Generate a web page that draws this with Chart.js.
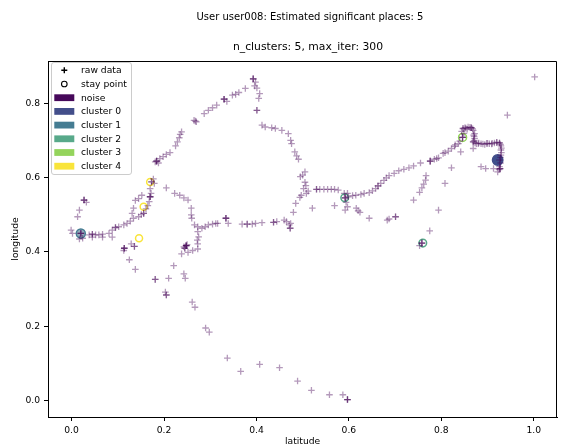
<!DOCTYPE html>
<html><head><meta charset="utf-8">
<script src="https://cdn.jsdelivr.net/npm/chart.js@4.4.0/dist/chart.umd.min.js"></script>
<style>html,body{margin:0;padding:0;background:#fff}</style>
</head><body>
<canvas id="c" width="564" height="448"></canvas>
<script>
// ---------- text ----------
const suptitleText = 'User user008: Estimated significant places: 5';
const subtitleText = 'n_clusters: 5, max_iter: 300';
const xLabel = 'latitude';
const yLabel = 'longitude';
const xTicks = [0.0, 0.2, 0.4, 0.6, 0.8, 1.0];
const yTicks = [0.0, 0.2, 0.4, 0.6, 0.8];
const legendMarkers = ['raw data', 'stay point'];
const clusterNames = ['noise', 'cluster 0', 'cluster 1', 'cluster 2', 'cluster 3', 'cluster 4'];

// ---------- raw data (latitude, longitude) ----------
const rawLat = [
 -0.001,0.002,0.020,0.020,0.020,0.017,0.024,0.013,0.017,0.027,0.027,0.027,0.032,
 0.038,0.045,0.045,0.052,0.059,0.045,0.067,0.067,0.081,0.088,0.088,0.095,0.095,0.102,0.113,0.120,0.127,0.134,0.145,0.156,0.156,0.151,0.161,0.134,0.131,
 0.114,0.114,0.114,0.113,0.129,0.136,0.136,0.125,0.138,
 0.152,0.145,0.138,0.165,0.168,0.170,0.170,0.170,0.172,0.170,0.173,0.173,0.177,0.179,
 0.181,0.184,0.184,0.184,0.188,0.191,0.198,0.205,0.213,0.225,0.229,0.233,0.235,0.238,0.265,0.268,0.270,0.287,0.296,0.305,0.314,
 0.330,0.330,0.330,0.336,0.348,0.355,0.362,0.376,0.393,0.393,0.393,0.398,0.396,0.401,0.407,0.405,0.401,0.401,
 0.412,0.419,0.433,0.441,0.455,0.469,0.474,0.476,0.483,0.487,0.491,0.505,0.500,0.495,0.505,0.507,0.502,0.512,0.508,0.497,0.494,0.485,0.480,0.474,0.473,0.473,0.521,
 0.530,0.530,0.537,0.546,0.554,0.562,0.569,0.577,
 0.592,0.592,0.592,0.590,0.597,0.599,0.594,0.597,0.592,0.608,0.615,0.626,0.633,0.644,0.651,0.658,0.663,0.663,0.669,0.676,0.681,0.687,0.698,0.708,0.719,0.730,0.740,0.755,0.776,0.776,0.776,0.785,0.794,0.804,0.808,0.822,0.829,0.837,0.840,0.846,0.846,0.846,
 0.847,0.847,0.851,0.858,0.865,0.865,0.869,0.872,0.872,0.869,0.869,0.876,0.886,0.894,0.904,0.915,0.926,0.926,0.929,0.929,0.929,0.926,0.927,0.927,0.927,0.922,0.844,0.856,0.871,0.881,0.898,0.909,0.920,0.930,0.928,
 0.849,0.853,0.862,0.868,0.870,0.871,0.873,0.880,0.890,0.900,0.910,0.920,0.928,0.930,0.928,0.926,0.925,0.815,0.830,0.790,
 0.842,0.869,0.822,0.886,0.896,0.913,0.943,1.002,
 0.767,0.766,0.762,0.758,0.753,0.740,0.808,0.794,0.775,0.758,0.758,0.758,0.753,
 0.701,0.701,0.687,0.683,0.644,0.616,0.620,0.624,0.569,
 0.205,0.223,0.234,0.243,0.252,0.259,0.259,0.260,0.266,0.273,0.282,0.289,0.296,0.305,0.312,0.316,0.334,0.334,0.334,0.339,0.369,0.380,0.380,0.391,0.398,0.412,0.437,0.437,0.444,0.460,0.465,0.471,
 0.273,0.275,0.272,0.273,0.273,0.262,0.252,0.238,0.245,0.245,0.248,0.248,0.248,0.248,0.250,0.243,
 0.221,0.210,0.181,0.181,0.205,0.205,0.203,0.243,0.246,0.261,0.267,0.290,0.298,
 0.337,0.366,0.407,0.450,0.489,0.519,0.558,0.587,0.597,0.597,0.597
];
const rawLon = [
 0.459,0.450,0.450,0.450,0.450,0.435,0.437,0.495,0.513,0.540,0.540,0.540,0.534,
 0.446,0.448,0.448,0.446,0.446,0.440,0.448,0.440,0.450,0.440,0.459,0.466,0.466,0.468,0.473,0.477,0.483,0.491,0.495,0.504,0.504,0.501,0.516,0.518,0.504,
 0.410,0.410,0.410,0.404,0.422,0.415,0.415,0.379,0.353,
 0.553,0.544,0.539,0.525,0.536,0.549,0.549,0.549,0.558,0.571,0.589,0.589,0.597,0.585,
 0.643,0.645,0.645,0.645,0.640,0.652,0.657,0.663,0.668,0.686,0.697,0.708,0.717,0.724,0.755,0.753,0.751,0.773,0.782,0.789,0.796,
 0.812,0.812,0.812,0.806,0.823,0.825,0.830,0.841,0.867,0.867,0.867,0.858,0.848,0.842,0.827,0.814,0.782,0.782,
 0.742,0.737,0.735,0.733,0.728,0.719,0.701,0.692,0.670,0.659,0.650,0.616,0.607,0.603,0.588,0.579,0.571,0.564,0.558,0.553,0.547,0.531,0.507,0.477,0.464,0.464,0.518,
 0.569,0.569,0.569,0.569,0.569,0.569,0.569,0.567,
 0.546,0.546,0.546,0.558,0.558,0.549,0.534,0.522,0.513,0.552,0.553,0.555,0.558,0.560,0.565,0.571,0.578,0.578,0.585,0.593,0.600,0.606,0.612,0.619,0.623,0.627,0.632,0.640,0.645,0.645,0.645,0.650,0.654,0.666,0.668,0.679,0.685,0.692,0.699,0.709,0.709,0.709,
 0.733,0.733,0.735,0.737,0.735,0.735,0.728,0.719,0.706,0.697,0.697,0.692,0.692,0.690,0.692,0.694,0.694,0.694,0.686,0.675,0.661,0.648,0.625,0.625,0.625,0.616,0.725,0.731,0.712,0.694,0.693,0.691,0.696,0.680,0.655,
 0.720,0.734,0.736,0.732,0.715,0.700,0.694,0.692,0.691,0.693,0.693,0.695,0.690,0.668,0.640,0.630,0.622,0.672,0.689,0.652,
 0.670,0.679,0.627,0.630,0.625,0.625,0.769,0.872,
 0.606,0.594,0.583,0.573,0.561,0.540,0.585,0.513,0.457,0.424,0.424,0.424,0.417,
 0.495,0.495,0.489,0.486,0.491,0.518,0.511,0.507,0.525,
 0.573,0.558,0.553,0.546,0.540,0.518,0.500,0.491,0.473,0.468,0.464,0.468,0.473,0.475,0.477,0.477,0.491,0.491,0.491,0.477,0.475,0.475,0.475,0.475,0.477,0.479,0.480,0.480,0.482,0.486,0.482,0.473,
 0.455,0.441,0.432,0.422,0.408,0.404,0.399,0.395,0.410,0.410,0.417,0.417,0.417,0.417,0.420,0.414,
 0.363,0.329,0.326,0.326,0.284,0.284,0.292,0.341,0.329,0.265,0.251,0.195,0.184,
 0.114,0.078,0.097,0.088,0.052,0.027,0.015,0.015,0.002,0.002,0.002
];

// ---------- stay points ----------
const stayLat = [0.922, 0.020, 0.591, 0.760, 0.846, 0.170, 0.156, 0.146];
const stayLon = [0.648, 0.450, 0.546, 0.424, 0.709, 0.589, 0.522, 0.437];
const stayCluster = [0, 1, 2, 2, 3, 4, 4, 4];

// ---------- styles ----------
const FONT = 'DejaVu Sans';
const clusterColors = ['#46085a', '#434e8a', '#457c92', '#58a98a', '#94d45c', '#f9e43a']; // noise, c0..c4
const stayRadius = {0: 5.2, 1: 4.5, 2: 3.8, 3: 4, 4: 3.5};
const stayFill = {0: '#3f4f8c', 1: 'rgba(60,100,130,0.55)', 2: 'rgba(0,0,0,0)', 3: 'rgba(0,0,0,0)', 4: 'rgba(0,0,0,0)'};

const rawPoints = rawLat.slice(0, Math.min(rawLat.length, rawLon.length)).map((x, i) => ({x: x, y: rawLon[i]}));
const stayPoints = stayLat.map((x, i) => ({x: x, y: stayLon[i]}));

const titlePlugin = {
  id: 'mplTitles',
  afterDraw(chart) {
    const ctx = chart.ctx;
    ctx.save();
    ctx.fillStyle = '#000';
    ctx.textAlign = 'center';
    ctx.textBaseline = 'middle';
    ctx.font = '10px "' + FONT + '"';
    ctx.fillText(suptitleText, 310, 17);
    ctx.font = '10.8px "' + FONT + '"';
    ctx.fillText(subtitleText, 308, 47);
    ctx.restore();
  }
};

const framePlugin = {
  id: 'frame',
  afterDatasetsDraw(chart) {
    const {ctx, chartArea: a} = chart;
    ctx.save();
    ctx.strokeStyle = '#000';
    ctx.lineWidth = 1;
    ctx.beginPath();
    ctx.moveTo(Math.round(a.left) + 0.5, Math.round(a.top) + 0.5);
    ctx.lineTo(Math.round(a.right) - 0.5, Math.round(a.top) + 0.5);
    ctx.lineTo(Math.round(a.right) - 0.5, Math.round(a.bottom) + 0.5);
    ctx.stroke();
    ctx.restore();
  }
};

const legendPlugin = {
  id: 'mplLegend',
  afterDraw(chart) {
    const ctx = chart.ctx;
    const bx = 51.5, by = 62.5, bw = 80, bh = 112, r = 2.5;
    ctx.save();
    ctx.beginPath();
    ctx.moveTo(bx + r, by);
    ctx.arcTo(bx + bw, by, bx + bw, by + bh, r);
    ctx.arcTo(bx + bw, by + bh, bx, by + bh, r);
    ctx.arcTo(bx, by + bh, bx, by, r);
    ctx.arcTo(bx, by, bx + bw, by, r);
    ctx.closePath();
    ctx.fillStyle = 'rgba(255,255,255,0.8)';
    ctx.fill();
    ctx.strokeStyle = '#cccccc';
    ctx.lineWidth = 1;
    ctx.stroke();

    const labels = legendMarkers.concat(clusterNames);
    const y0 = 70.3, dy = 13.7, mx = 64.3, tx = 81;
    ctx.font = '9.2px "' + FONT + '"';
    ctx.textBaseline = 'middle';
    ctx.textAlign = 'left';
    labels.forEach((lab, i) => {
      const y = y0 + i * dy;
      if (i === 0) {
        ctx.strokeStyle = '#000'; ctx.lineWidth = 1.4;
        ctx.beginPath();
        ctx.moveTo(mx - 3, y); ctx.lineTo(mx + 3, y);
        ctx.moveTo(mx, y - 3); ctx.lineTo(mx, y + 3);
        ctx.stroke();
      } else if (i === 1) {
        ctx.strokeStyle = '#000'; ctx.lineWidth = 1.1;
        ctx.beginPath();
        ctx.arc(mx, y, 2.8, 0, Math.PI * 2);
        ctx.stroke();
      } else {
        ctx.fillStyle = clusterColors[i - 2];
        ctx.fillRect(54.3, y - 3.4, 20, 6.8);
      }
      ctx.fillStyle = '#000';
      ctx.fillText(lab, tx, y + 0.5);
    });
    ctx.restore();
  }
};

const tickFont = {family: FONT, size: 9.2};

new Chart(document.getElementById('c'), {
  type: 'scatter',
  data: {
    datasets: [
      {
        label: legendMarkers[0],
        data: rawPoints,
        pointStyle: 'cross',
        pointRadius: 3.3,
        pointHoverRadius: 3.3,
        pointBorderWidth: 1.3,
        pointBorderColor: 'rgba(68,1,84,0.4)',
        pointBackgroundColor: 'rgba(0,0,0,0)',
        order: 0
      },
      {
        label: legendMarkers[1],
        data: stayPoints,
        pointStyle: 'circle',
        pointRadius: stayCluster.map(c => stayRadius[c]),
        pointHoverRadius: stayCluster.map(c => stayRadius[c]),
        pointBorderWidth: 1.5,
        pointBorderColor: stayCluster.map(c => clusterColors[c + 1]),
        pointBackgroundColor: stayCluster.map(c => stayFill[c]),
        order: 1
      }
    ]
  },
  options: {
    responsive: false,
    animation: false,
    devicePixelRatio: 1,
    events: [],
    layout: {padding: {top: 61, right: 1, left: 0, bottom: 0}},
    plugins: {
      legend: {display: false},
      tooltip: {enabled: false},
      title: {display: false},
      subtitle: {display: false}
    },
    scales: {
      x: {
        type: 'linear', position: 'bottom', min: -0.051, max: 1.051,
        afterBuildTicks: s => { s.ticks = xTicks.map(v => ({value: v})); },
        afterFit: s => { s.height = 31; },
        ticks: {callback: v => Number(v).toFixed(1), font: tickFont, color: '#000', padding: 4, maxRotation: 0, autoSkip: false},
        grid: {drawOnChartArea: false, drawTicks: true, tickLength: 4, color: '#000', lineWidth: 1},
        border: {display: true, color: '#000', width: 1},
        title: {display: true, text: xLabel, color: '#000', font: {family: FONT, size: 9.2, lineHeight: 1.2}, padding: {top: 0, bottom: 1}}
      },
      y: {
        type: 'linear', position: 'left', min: -0.045, max: 0.915,
        afterBuildTicks: s => { s.ticks = yTicks.map(v => ({value: v})); },
        afterFit: s => { s.width = 48; },
        ticks: {callback: v => Number(v).toFixed(1), font: tickFont, color: '#000', padding: 4, autoSkip: false},
        grid: {drawOnChartArea: false, drawTicks: true, tickLength: 4, color: '#000', lineWidth: 1},
        border: {display: true, color: '#000', width: 1},
        title: {display: true, text: yLabel, color: '#000', font: {family: FONT, size: 9.2, lineHeight: 1.2}, padding: {top: 10.5, bottom: 0}}
      }
    }
  },
  plugins: [framePlugin, legendPlugin, titlePlugin]
});
</script>
</body></html>
